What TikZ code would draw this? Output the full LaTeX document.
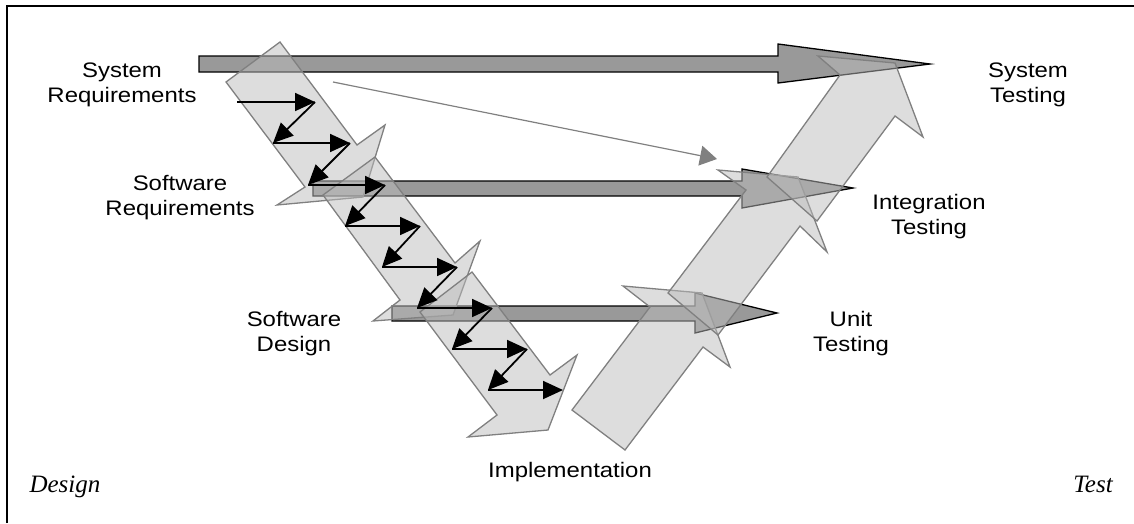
\documentclass[tikz,border=0pt]{standalone}
\usepackage{fontspec}
\setmainfont{Liberation Sans}
\newfontfamily\serifit{Liberation Serif}
\usetikzlibrary{arrows.meta}
\definecolor{barfill}{HTML}{999999}
\definecolor{lightfill}{HTML}{BBBBBB}
\definecolor{edgegray}{HTML}{808080}
\newcommand\wx[1]{\scalebox{1.14}[1]{#1}}
\begin{document}
\begin{tikzpicture}[x=1pt,y=-1pt,
  bar/.style={fill=barfill, draw=black, line width=1.3pt, line join=miter},
  big/.style={fill=lightfill, fill opacity=0.5, draw=edgegray, draw opacity=1, line width=1.3pt, line join=miter},
  flow/.style={draw=black, line width=1.8pt, -{Triangle[length=20pt,width=18pt]}},
  trace/.style={draw=edgegray, line width=1.2pt, -{Triangle[length=17pt,width=20pt]}},
  lbl/.style={font=\fontsize{21}{25}\selectfont, align=center, inner sep=0pt},
  itl/.style={font=\fontsize{25}{28}\selectfont\serifit\itshape, inner sep=0pt, anchor=base}]
\useasboundingbox (0,0) rectangle (1134,523);
\draw[line width=1.5pt] (7,523) -- (7,6) -- (1134,6);

% horizontal grey arrows
\draw[bar] (199,56) -- (778,56) -- (778,44) -- (930,64) -- (778,83) -- (778,72) -- (199,72) -- cycle;
\draw[bar] (313,181) -- (742,181) -- (742,169) -- (853,188) -- (742,208) -- (742,196) -- (313,196) -- cycle;
\draw[bar] (392,306) -- (695,306) -- (695,293) -- (777,313) -- (695,333) -- (695,321) -- (392,321) -- cycle;

% descending chain
\draw[big] (226,82) -- (280,42) -- (357,145) -- (385,125) -- (363,197) -- (277,205) -- (305,187) -- cycle;
\draw[big] (323,195) -- (375,157) -- (455,263) -- (480,241) -- (453,315) -- (373,321) -- (400,300) -- cycle;
\draw[big] (420,312) -- (472,272) -- (550,375) -- (577,355) -- (548,430) -- (468,437) -- (497,415) -- cycle;

% ascending chain
\draw[big] (572,410) -- (625,450) -- (703,347) -- (730,367) -- (702,293) -- (623,286) -- (650,307) -- cycle;
\draw[big] (668,293) -- (718,335) -- (800,226) -- (827,252) -- (798,177) -- (718,170) -- (746,190) -- cycle;
\draw[big] (767,177) -- (817,221) -- (895,116) -- (923,137) -- (895,63) -- (818,56) -- (840,75) -- cycle;

% thin trace arrow
\coordinate (t0) at (333,82);
\coordinate (t1) at (717,159);
\draw[trace] (t0) -- (t1);

% zigzag arrows
\coordinate (s1) at (237,102); \coordinate (e1) at (315,102);
\coordinate (s2) at (273,143); \coordinate (e2) at (350,143);
\coordinate (s3) at (308,185); \coordinate (e3) at (385,185);
\coordinate (s4) at (345,226); \coordinate (e4) at (420,226);
\coordinate (s5) at (382,267); \coordinate (e5) at (457,267);
\coordinate (s6) at (417,308); \coordinate (e6) at (492,308);
\coordinate (s7) at (452,349); \coordinate (e7) at (527,349);
\coordinate (s8) at (488,390); \coordinate (e8) at (563,390);
\foreach \i in {1,...,8} {\draw[flow] (s\i) -- (e\i);}
\foreach \i [evaluate=\i as \j using int(\i+1)] in {1,...,7} {\draw[flow] (e\i) -- (s\j);}

% labels
\node[lbl] (sysreq) at (122,85) {\wx{System}\\\wx{Requirements}};
\node[lbl] (swreq) at (180,198) {\wx{Software}\\\wx{Requirements}};
\node[lbl] (swdes) at (294,334) {\wx{Software}\\\wx{Design}};
\node[lbl] (systest) at (1028,85) {\wx{System}\\\wx{Testing}};
\node[lbl] (inttest) at (929,217) {\wx{Integration}\\\wx{Testing}};
\node[lbl] (unittest) at (851,334) {\wx{Unit}\\\wx{Testing}};
\node[lbl, anchor=base] (impl) at (570,477) {\wx{Implementation}};
\node[itl] (design) at (65,492) {Design};
\node[itl] (test) at (1093,492) {Test};
\end{tikzpicture}
\end{document}
